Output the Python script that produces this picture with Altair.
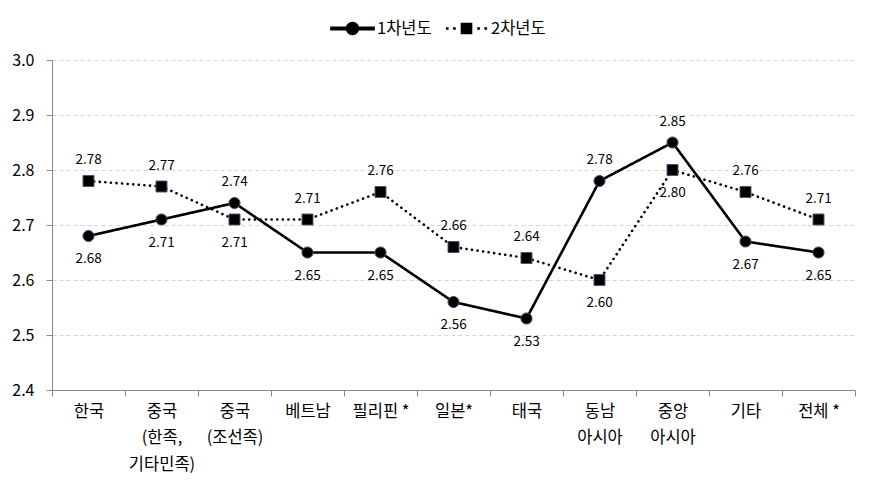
import altair as alt
import pandas as pd

cats = ["한국", "중국\n(한족,\n기타민족)", "중국\n(조선족)", "베트남", "필리핀 *", "일본*",
        "태국", "동남\n아시아", "중앙\n아시아", "기타", "전체 *"]
series_names = ["1차년도", "2차년도"]
year1 = [2.68, 2.71, 2.74, 2.65, 2.65, 2.56, 2.53, 2.78, 2.85, 2.67, 2.65]
year2 = [2.78, 2.77, 2.71, 2.71, 2.76, 2.66, 2.64, 2.60, 2.80, 2.76, 2.71]
y_ticks = [2.4, 2.5, 2.6, 2.7, 2.8, 2.9, 3.0]

rows = []
for i, c in enumerate(cats):
    rows.append({"cat": c, "series": series_names[0], "value": year1[i],
                 "above": year1[i] > year2[i], "lg": series_names[0]})
    rows.append({"cat": c, "series": series_names[1], "value": year2[i],
                 "above": year2[i] > year1[i], "lg": series_names[1]})
df = pd.DataFrame(rows)

FONT = "Noto Sans CJK KR"

x = alt.X("cat:N", sort=cats, title=None,
          scale=alt.Scale(paddingInner=0, paddingOuter=0),
          axis=alt.Axis(labelExpr="split(datum.label, '\\n')", labelAngle=0,
                        labelFont=FONT, labelFontSize=16.5, labelColor="black",
                        labelLineHeight=26.5, labelPadding=7, labelBaseline="top",
                        tickBand="extent", tickSize=6, tickColor="#888888",
                        domainColor="#888888", grid=False))
y = alt.Y("value:Q", title=None,
          scale=alt.Scale(domain=[2.4, 3.0], nice=False, zero=False),
          axis=alt.Axis(values=y_ticks, format=".1f", labelFont=FONT,
                        labelFontSize=16, labelColor="black", labelPadding=12,
                        tickSize=6, tickColor="#888888", domainColor="#888888",
                        grid=True, gridColor="#d4d4d4", gridDash=[4, 3]))

base = alt.Chart(df)

line = base.mark_line(color="black", strokeWidth=2.6, strokeCap="round").encode(
    x=x, y=y,
    strokeDash=alt.StrokeDash("series:N",
                              scale=alt.Scale(domain=series_names, range=[[1, 0], [0.1, 5.5]]),
                              legend=None),
    detail="series:N",
)

points = base.mark_point(filled=True, fill="black", stroke="#5b4a74",
                         strokeWidth=1, opacity=1).encode(
    x=x, y=y,
    shape=alt.Shape("series:N", scale=alt.Scale(domain=series_names, range=["circle", "square"]),
                    legend=None),
    size=alt.Size("series:N", scale=alt.Scale(domain=series_names, range=[125, 120]), legend=None),
)

txt_above = base.transform_filter("datum.above").mark_text(
    font=FONT, fontSize=13.5, color="black", dy=-21, baseline="middle").encode(
    x=x, y=y, text=alt.Text("value:Q", format=".2f"))
txt_below = base.transform_filter("!datum.above").mark_text(
    font=FONT, fontSize=13.5, color="black", dy=23, baseline="middle").encode(
    x=x, y=y, text=alt.Text("value:Q", format=".2f"))

p1 = ("M-1,-0.085H-0.25V0.085H-1Z M0.25,-0.085H1V0.085H0.25Z "
      "M-0.3,0A0.3,0.3 0 1,1 0.3,0A0.3,0.3 0 1,1 -0.3,0Z")
p2 = ("M-0.92,-0.06H-0.8V0.06H-0.92Z M-0.6,-0.06H-0.48V0.06H-0.6Z "
      "M0.48,-0.06H0.6V0.06H0.48Z M0.8,-0.06H0.92V0.06H0.8Z "
      "M-0.26,-0.26H0.26V0.26H-0.26Z")

legend_layer = base.mark_point(opacity=0, filled=True, color="black").encode(
    x=x, y=y,
    shape=alt.Shape("lg:N", scale=alt.Scale(domain=series_names, range=[p1, p2]),
                    legend=alt.Legend(title=None, orient="none", legendX=278, legendY=-54,
                                      direction="horizontal", symbolSize=2000,
                                      symbolOpacity=1, symbolFillColor="black",
                                      symbolStrokeColor="black",
                                      symbolStrokeWidth=0, labelFont=FONT,
                                      labelFontSize=16.5, labelColor="black",
                                      labelOffset=2, columnPadding=12)),
)

chart = alt.layer(line, points, txt_above, txt_below, legend_layer).resolve_scale(
    shape="independent"
).properties(
    width=803, height=330,
    autosize=alt.AutoSizeParams(type="none"),
    padding={"left": 44, "top": 52, "right": 8, "bottom": 100},
).configure_view(stroke=None)

chart.save("out.html", embed_options={"renderer": "svg", "actions": False})
